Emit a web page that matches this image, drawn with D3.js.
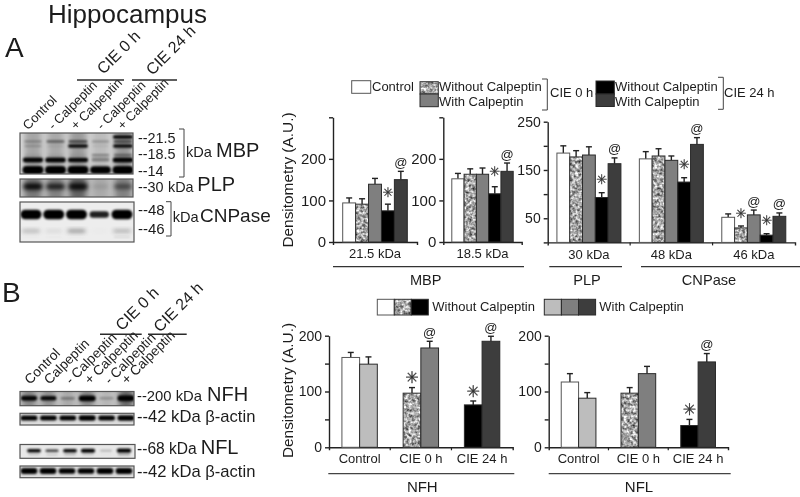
<!DOCTYPE html>
<html><head><meta charset="utf-8">
<script src="https://cdn.jsdelivr.net/npm/d3@7/dist/d3.min.js"></script>
<style>
html,body{margin:0;padding:0;background:#fff}
svg{display:block;filter:blur(.35px)}
text{font-family:"Liberation Sans",Arial,sans-serif;fill:#1c1c1c}
</style></head><body>
<svg id="c" width="800" height="497"></svg>
<script>
// ---------- data ----------
const mbp215 = [94, 91, 139, 75, 150];   const mbp215Err = [12, 13, 14, 16, 20];
const mbp185 = [152, 163, 163, 116, 170]; const mbp185Err = [13, 13, 15, 17, 20];
const plp30 = [185, 177, 181, 93, 163];  const plp30Err = [15, 13, 17, 10, 12];
const cnp48 = [173, 179, 170, 125, 203]; const cnp48Err = [15, 15, 9, 9, 14];
const cnp46 = [52, 30, 57, 15, 54];      const cnp46Err = [7, 4, 10, 3, 7];
const nfhGroups = ["Control","CIE 0 h","CIE 24 h"];
const nfh = [161, 149, 97, 178, 76, 190];  const nfhErr = [9, 13, 10, 12, 7, 9];
const nfl = [117, 88, 97, 132, 39, 153];   const nflErr = [15, 10, 10, 13, 11, 15];
const nfhStars = [2, 4], nfhAts = [3, 5], nflStars = [4], nflAts = [5];
const lanesA = ["Control","- Calpeptin","+ Calpeptin","- Calpeptin ","+ Calpeptin "];
const lanesB = ["Control","Calpeptin","- Calpeptin","+ Calpeptin","- Calpeptin ","+ Calpeptin "];
// band intensity per lane, by blot row
const mbpTop0 = [0,0,.12,0,.85], mbpTop = [.38,.5,.6,.35,.6], mbpUp2 = [.3,.2,.8,.18,.8], mbpMid0 = [.22,.2,.22,.4,.5];
const mbpMid1 = [.05,.05,.05,.35,.1], mbpMid = [.88,.92,.86,.42,.92], mbpLow = [1,1,1,.95,1];
const plpBand = [.85,.75,.85,.28,.6];
const cnpTop = [1,1,1,.72,1], cnpLow = [.42,.24,.5,.05,.45], cnpLow2 = [.05,.05,.05,0,.22];
const nfhBand = [.85,.8,.4,.98,.32,1], actinA = [.95,.92,.92,.98,.92,.98];
const nflBand = [.85,.65,.85,.95,.3,1], nflLow = [.25,.25,.3,.25,.05,.4], actinB = [1,1,.98,.98,1,1];
const mbpHaze = [.26,.24,.3,.16,.32], plpHaze = [.4,.35,.5,.15,.35], nfhHaze = [.35,.3,.18,.35,.12,.5];

const GRAYS = {control:"#ffffff",ctrlWith:"#bdbdbd",with0:"#7f7f7f",without24:"#000000",with24:"#3d3d3d"};

const svg = d3.select("#c");
const defs = svg.append("defs");
const speck = defs.append("filter").attr("id","speck").attr("x",0).attr("y",0).attr("width",1).attr("height",1)
  .attr("color-interpolation-filters","sRGB");
speck.append("feTurbulence").attr("type","fractalNoise").attr("baseFrequency",.33).attr("numOctaves",2).attr("seed",7).attr("result","n");
speck.append("feColorMatrix").attr("in","n").attr("type","matrix")
  .attr("values","1.35 0 0 0 -.02  1.35 0 0 0 -.02  1.35 0 0 0 -.02  0 0 0 0 1").attr("result","g");
speck.append("feComposite").attr("in","g").attr("in2","SourceAlpha").attr("operator","in");
[["b1",1.0],["b2",1.9],["b3",3]].forEach(([id,s])=>defs.append("filter").attr("id",id)
  .attr("x","-40%").attr("y","-150%").attr("width","180%").attr("height","400%")
  .attr("color-interpolation-filters","sRGB")
  .append("feGaussianBlur").attr("stdDeviation",s));

function txt(x,y,s,size,opt={}){
  const t = svg.append("text").attr("x",x).attr("y",y).attr("font-size",size).text(s);
  if(opt.anchor) t.attr("text-anchor",opt.anchor);
  if(opt.rot!==undefined) t.attr("transform",`rotate(${opt.rot} ${x} ${y})`);
  return t;
}
function line(x1,y1,x2,y2,w=1.4,c="#2a2a2a"){
  svg.append("line").attr("x1",x1).attr("y1",y1).attr("x2",x2).attr("y2",y2).attr("stroke",c).attr("stroke-width",w);
}
function bracket(x1,x2,y1,y2){
  svg.append("path").attr("d",`M${x1},${y1}H${x2}V${y2}H${x1}`).attr("fill","none").attr("stroke","#444").attr("stroke-width",1);
}
function swatch(x,y,w,h,fill){
  const r = svg.append("rect").attr("x",x).attr("y",y).attr("width",w).attr("height",h);
  if(fill==="speck"){ r.attr("fill","#000").attr("filter","url(#speck)");
    svg.append("rect").attr("x",x).attr("y",y).attr("width",w).attr("height",h).attr("fill","none").attr("stroke","#333").attr("stroke-width",1); }
  else r.attr("fill",fill).attr("stroke",fill==="#ffffff"?"#555":"#2a2a2a").attr("stroke-width",1);
}

function barChart(o){
  const y = d3.scaleLinear().domain([0,o.max]).range(o.yRange);
  const x = d3.scaleBand().domain(o.groups).range(o.xRange);
  const pad = (x.bandwidth()-o.groupW)/2;
  const gAxisY = svg.append("g").attr("transform",`translate(${o.xRange[0]},0)`)
    .call(d3.axisLeft(y).tickValues(o.ticks).tickSize(4).tickSizeOuter(0)
      .tickFormat(d=>o.labels.includes(d)?d:""));
  gAxisY.selectAll("text").attr("font-size",o.tickFont).attr("fill","#1c1c1c");
  gAxisY.selectAll("path,line").attr("stroke","#222").attr("stroke-width",1.4);
  const gAxisX = svg.append("g").attr("transform",`translate(0,${o.yRange[0]})`)
    .call(d3.axisBottom(x).tickSize(0).tickSizeOuter(3).tickPadding(o.xPad));
  gAxisX.selectAll("text").attr("font-size",13).attr("fill","#1c1c1c");
  gAxisX.selectAll("path").attr("stroke","#222").attr("stroke-width",1.4);
  o.groups.slice(1).forEach(g=>gAxisX.append("line").attr("x1",x(g)).attr("x2",x(g))
     .attr("y1",0).attr("y2",3).attr("stroke","#222").attr("stroke-width",1.2));
  const nPer = o.series[0].vals.length;
  o.series.forEach((s,gi)=>{
    const inner = d3.scaleBand().domain(d3.range(nPer)).range([x(o.groups[gi])+pad, x(o.groups[gi])+pad+o.groupW]);
    s.vals.forEach((v,i)=>{
      const bx = inner(i), bw = inner.bandwidth(), cx = bx+bw/2, top = y(v), errTop = y(v+s.errs[i]);
      line(cx,top,cx,errTop,1.4,"#222");
      line(cx-3,errTop,cx+3,errTop,1.4,"#222");
      swatch(bx,top,bw,y(0)-top,s.fills[i]);
      if(s.stars.includes(i)) txt(cx,errTop-o.starGap+o.starSize*.36,"\u2733",o.starSize,{anchor:"middle"})
        .style("font-family","'DejaVu Sans'").style("fill","#333").style("stroke","#333").style("stroke-width",.3);
      if(s.ats.includes(i)) txt(cx,errTop-9+4.5,"@",o.atSize,{anchor:"middle"});
    });
  });
}
const W="#ffffff",SP="speck",G=GRAYS.with0,K=GRAYS.without24,D=GRAYS.with24,L=GRAYS.ctrlWith;
const fiveFills=[W,SP,G,K,D];
barChart({groups:["21.5 kDa"],xRange:[333,417],yRange:[242,117.3],max:300,ticks:[0,100,200,300],labels:[0,100,200],
  groupW:64.6,tickFont:15,xPad:7,starGap:12,starSize:13,atSize:13,
  series:[{vals:mbp215,errs:mbp215Err,fills:fiveFills,stars:[3],ats:[4]}]});
barChart({groups:["18.5 kDa"],xRange:[443.3,521.7],yRange:[242,117.3],max:300,ticks:[0,100,200,300],labels:[0,100,200],
  groupW:61.4,tickFont:15,xPad:7,starGap:15,starSize:13,atSize:13,
  series:[{vals:mbp185,errs:mbp185Err,fills:fiveFills,stars:[3],ats:[4]}]});
barChart({groups:["30 kDa","48 kDa","46 kDa"],xRange:[547.7,795],yRange:[242.4,121.7],max:250,ticks:[0,50,100,150,200,250],labels:[50,150,250],
  groupW:64,tickFont:14,xPad:7,starGap:13,starSize:13,atSize:13,
  series:[{vals:plp30,errs:plp30Err,fills:fiveFills,stars:[3],ats:[4]},
          {vals:cnp48,errs:cnp48Err,fills:fiveFills,stars:[3],ats:[4]},
          {vals:cnp46,errs:cnp46Err,fills:fiveFills,stars:[1,3],ats:[2,4]}]});
function split(v,e,st,at,fills){
  return [0,1,2].map(g=>({vals:v.slice(g*2,g*2+2),errs:e.slice(g*2,g*2+2),fills:fills[g],
    stars:st.filter(i=>i>>1===g).map(i=>i%2),ats:at.filter(i=>i>>1===g).map(i=>i%2)}));
}
const pairFills=[[W,L],[SP,G],[K,D]];
barChart({groups:nfhGroups,xRange:[329,512.7],yRange:[447.3,335.7],max:200,ticks:[0,50,100,150,200],labels:[0,100,200],
  groupW:35.4,tickFont:14,xPad:6,starGap:10,starSize:16,atSize:13,series:split(nfh,nfhErr,nfhStars,nfhAts,pairFills)});
barChart({groups:nfhGroups,xRange:[548.7,728],yRange:[447.3,335.7],max:200,ticks:[0,50,100,150,200],labels:[0,100,200],
  groupW:34.7,tickFont:14,xPad:6,starGap:10,starSize:16,atSize:13,series:split(nfl,nflErr,nflStars,nflAts,pairFills)});

// y titles
txt(293,180,"Densitometry (A.U.)",15.4,{rot:-90,anchor:"middle"});
txt(293,390.5,"Densitometry (A.U.)",15.4,{rot:-90,anchor:"middle"});

// group rules and names
line(333,266.7,524,266.7,1.2,"#333"); line(549.3,266.7,622,266.7,1.2,"#333"); line(641,266.7,800,266.7,1.2,"#333");
txt(425.7,285,"MBP",14.6,{anchor:"middle"}); txt(587,285,"PLP",14.6,{anchor:"middle"}); txt(709,285,"CNPase",14.6,{anchor:"middle"});
line(328.3,473.7,514.3,473.7,1.2,"#444"); line(548.7,473.7,730.7,473.7,1.2,"#444");
txt(422.3,491.5,"NFH",15,{anchor:"middle"}); txt(639,491.5,"NFL",15,{anchor:"middle"});

// legends
swatch(351.7,80.7,19,12.6,W); txt(372,90.7,"Control",13);
swatch(420,81.7,18.3,12.3,SP); swatch(420,94,18.3,12.7,G);
txt(439,90.7,"Without Calpeptin",13); txt(439,105.7,"With Calpeptin",13);
bracket(542,547.3,79,110); txt(550,97.3,"CIE 0 h",13);
swatch(596,81,18.3,13,K); swatch(596,94,18.3,12.5,D);
txt(615,90.7,"Without Calpeptin",13); txt(615,105.7,"With Calpeptin",13);
bracket(718,723.3,77.3,109.3); txt(724,97.3,"CIE 24 h",13);
[W,SP,K].forEach((f,i)=>swatch(377.3+i*17,299.3,17,15.7,f));
txt(432.3,311,"Without Calpeptin",13);
[L,G,D].forEach((f,i)=>swatch(544.3+i*17.1,299.3,17.1,15.7,f));
txt(599.3,311,"With Calpeptin",13);

// heading
txt(48,23,"Hippocampus",26);
txt(5,57,"A",28); txt(2,302,"B",28);

// blots
let clipN=0;
function blot(o){
  const [x0,x1,y0,y1]=o.box, id="clip"+(clipN++);
  defs.append("clipPath").attr("id",id).append("rect").attr("x",x0).attr("y",y0).attr("width",x1-x0).attr("height",y1-y0);
  const x=d3.scalePoint().domain(o.lanes).range(o.range);
  const g=svg.append("g").attr("clip-path",`url(#${id})`);
  g.append("rect").attr("x",x0).attr("y",y0).attr("width",x1-x0).attr("height",y1-y0).attr("fill",o.bg);
  if(o.haze) o.lanes.forEach((l,i)=>g.append("rect").attr("x",x(l)-o.w*.85).attr("width",o.w*1.7).attr("y",y0-6).attr("height",y1-y0+12)
      .attr("fill","#000").attr("opacity",o.haze[i]).attr("filter","url(#b3)"));
  o.rows.forEach(r=>{
    o.lanes.forEach((l,i)=>{
      const v=r.vals[i], hh=r.h*(.35+.65*v*v), ww=o.w*(.72+.28*v);
      if(v<=0) return;
      const c=Math.round(200*(1-v)*(1-v));
      g.append("rect").attr("x",x(l)-ww).attr("width",ww*2).attr("y",r.y-hh).attr("height",hh*2).attr("rx",hh).attr("ry",hh)
        .attr("fill",`rgb(${c},${c},${c})`).attr("opacity",Math.min(1,.1+v*1.15))
        .attr("filter",`url(#${r.blur||"b1"})`);
    });
  });
  svg.append("rect").attr("x",x0).attr("y",y0).attr("width",x1-x0).attr("height",y1-y0).attr("fill","none").attr("stroke","#555").attr("stroke-width",1.2);
}
blot({box:[20,133,133,174],lanes:lanesA,range:[33,123],w:10.5,bg:"#e0e0e0",haze:mbpHaze,
  rows:[{y:137,h:2.2,vals:mbpTop0},{y:141.5,h:2.2,vals:mbpTop},{y:146,h:2.2,vals:mbpUp2},{y:155,h:2,vals:mbpMid0},{y:158,h:2,vals:mbpMid1},{y:160,h:2.8,vals:mbpMid},{y:170,h:4,vals:mbpLow}]});
blot({box:[20,133,179,197],lanes:lanesA,range:[33,123],w:10,bg:"#c8c8c8",haze:plpHaze,
  rows:[{y:186.5,h:4,vals:plpBand,blur:"b2"}]});
blot({box:[20,134,202,242],lanes:lanesA,range:[31,122],w:10.5,bg:"#ededed",
  rows:[{y:214.5,h:4.8,vals:cnpTop},{y:231,h:2.2,vals:cnpLow,blur:"b2"},{y:237,h:1.2,vals:cnpLow2}]});
blot({box:[20,134,391.5,405.7],lanes:lanesB,range:[29,126],w:8.5,bg:"#d0d0d0",haze:nfhHaze,
  rows:[{y:398.3,h:3,vals:nfhBand}]});
blot({box:[20,134,413.3,425],lanes:lanesB,range:[29,126],w:8.6,bg:"#dcdcdc",
  rows:[{y:418,h:2.8,vals:actinA}]});
blot({box:[20,135,444.5,458.3],lanes:lanesB,range:[34,124],w:7.2,bg:"#e8e8e8",
  rows:[{y:454.5,h:1.6,vals:nflLow},{y:450.7,h:2.1,vals:nflBand}]});
blot({box:[20,134,466,477.7],lanes:lanesB,range:[29,124],w:8.4,bg:"#dcdcdc",
  rows:[{y:471,h:2.9,vals:actinB}]});

// lane labels
const lanesAx=[28,53.5,76,102,122.7], lanesBx=[30,49.5,71,90,110,127];
lanesA.forEach((s,i)=>txt(lanesAx[i],130.5,s.trim(),13,{rot:-45}));
lanesB.forEach((s,i)=>txt(lanesBx[i],385,s.trim(),13.6,{rot:-45}));
txt(103.5,75,"CIE 0 h",16,{rot:-45}); txt(152.5,76,"CIE 24 h",16,{rot:-45});
txt(122,331.5,"CIE 0 h",16,{rot:-45}); txt(160,333,"CIE 24 h",16,{rot:-45});
line(77,80,124,80,1.4); line(132,80,177,80,1.4);
line(100,334.3,141.7,334.3,1.4); line(148,334.3,186.7,334.3,1.4);

// blot annotations
txt(138,143,"--21.5",14.4); txt(138,159.3,"--18.5",14.4); txt(138,175.5,"--14",14.4);
bracket(179,184,129,177); txt(186,157,"kDa",14.6); txt(216,157,"MBP",20);
txt(138,191.7,"--30",14.4); txt(168,191.7,"kDa",14.4); txt(197.3,191,"PLP",20);
txt(138,215,"--48",15); txt(138,234,"--46",15);
bracket(166,171,201.7,236); txt(172.7,222,"kDa",14.6); txt(200,222,"CNPase",19);
txt(137,401,"--200 kDa",14.8); txt(207,401,"NFH",20);
txt(137,421.7,"--42 kDa β-actin",16.6);
txt(137,454,"--68 kDa",15.6); txt(200.7,454,"NFL",20);
txt(137,476.7,"--42 kDa β-actin",16.6);
</script>
</body></html>
